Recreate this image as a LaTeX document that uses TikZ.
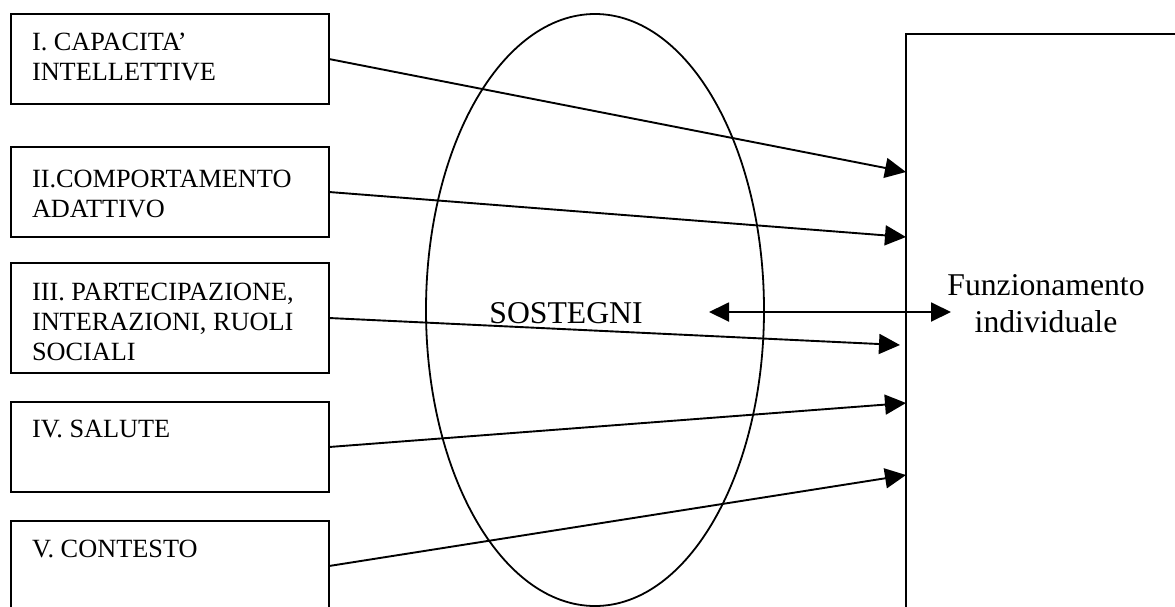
\documentclass[tikz,border=0pt]{standalone}
\usepackage{fontspec}
\setmainfont{Liberation Serif}
\usetikzlibrary{arrows.meta,calc,shapes.geometric}
\begin{document}
\begin{tikzpicture}[x=1pt,y=-1pt,
  every node/.style={inner sep=0pt,outer sep=0pt},
  dimbox/.style={draw,line width=2pt,minimum width=318pt},
  boxtext/.style={anchor=base west,align=left,font=\fontsize{26.3}{30}\selectfont},
  bigtext/.style={font=\fontsize{31.7}{37}\selectfont},
  link/.style={line width=1.9pt,-{Triangle[length=21pt,width=20pt]}},
  twoway/.style={line width=1.9pt,{Triangle[length=20pt,width=19pt]}-{Triangle[length=20pt,width=19pt]}}]
\useasboundingbox (0,0) rectangle (1175,606);
\clip (0,0) rectangle (1175,606);

% dimension boxes
\node[dimbox,minimum height=90pt]  (b1) at (170,59)  {};
\node[dimbox,minimum height=90pt]  (b2) at (170,192) {};
\node[dimbox,minimum height=110pt] (b3) at (170,318) {};
\node[dimbox,minimum height=90pt]  (b4) at (170,447) {};
\node[dimbox,minimum height=90pt]  (b5) at (170,566) {};

% box labels (anchored on the baseline of their last line)
\node[boxtext] (t1) at ($(b1.north west)+(21,66)$) {I. CAPACITA’\\INTELLETTIVE};
\node[boxtext] (t2) at ($(b2.north west)+(21,70)$) {II.COMPORTAMENTO\\ADATTIVO};
\node[boxtext] (t3) at ($(b3.north west)+(21,97)$) {III. PARTECIPAZIONE,\\INTERAZIONI, RUOLI\\SOCIALI};
\node[boxtext] (t4) at ($(b4.north west)+(21,35)$) {IV. SALUTE};
\node[boxtext] (t5) at ($(b5.north west)+(21,36)$) {V. CONTESTO};

% supports ellipse
\node[draw,ellipse,line width=1.8pt,minimum width=338pt,minimum height=592pt] (sos) at (595,310) {};
\node[bigtext,anchor=base] (sostxt) at (566,323) {SOSTEGNI};

% individual functioning
\node[draw,line width=1.9pt,anchor=north west,minimum width=300pt,minimum height=600pt] (fi) at (906,34) {};
\node[bigtext,align=center,anchor=base] (fitxt) at (1046,332) {Funzionamento\\individuale};

% connectors
\draw[link] (b1.east) -- ($(fi.north west)+(0,138)$);
\draw[link] (b2.east) -- ($(fi.north west)+(0,203)$);
\draw[link] (b3.east) -- ($(fi.north west)+(-6,311)$);
\draw[link] (b4.east) -- ($(fi.north west)+(0,369)$);
\draw[link] (b5.east) -- ($(fi.north west)+(0,441)$);

\coordinate (dl) at (709,312);
\coordinate (dr) at (951,312);
\draw[twoway] (dl) -- (dr);
\end{tikzpicture}
\end{document}
